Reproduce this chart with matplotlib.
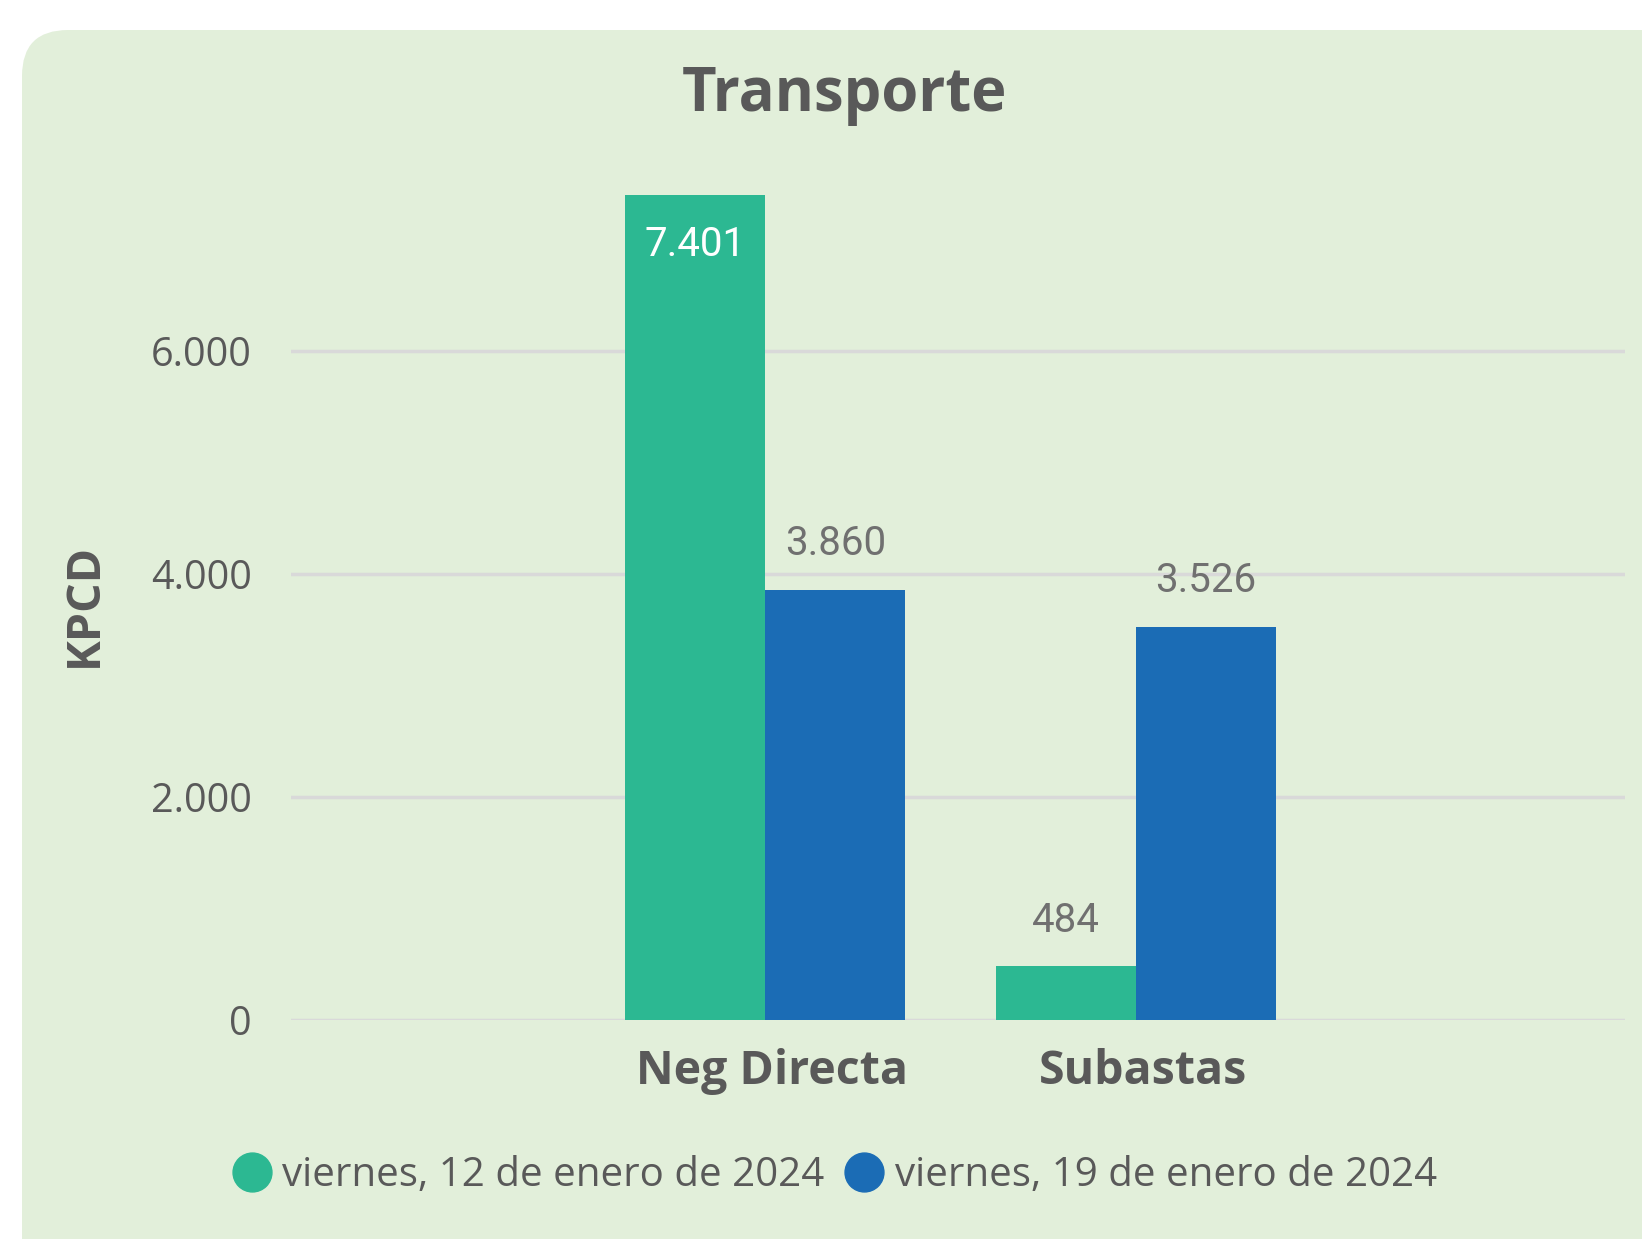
import matplotlib.pyplot as plt
from matplotlib.patches import FancyBboxPatch
from matplotlib.lines import Line2D
from matplotlib.transforms import ScaledTranslation
import numpy as np

categories = ["Neg Directa", "Subastas"]
series_names = ["viernes, 12 de enero de 2024", "viernes, 19 de enero de 2024"]
values_12 = [7401, 484]
values_19 = [3860, 3526]
y_ticks = [0, 2000, 4000, 6000]

GREEN = "#2CB892"
BLUE = "#1B6CB5"
BG = "#E2EFDA"
GRID = "#D9D9D9"
TEXT = "#595959"


def fmt(v):
    return f"{v:,.0f}".replace(",", ".")


fig = plt.figure(figsize=(16.42, 12.39), dpi=100)
fig.patch.set_facecolor("white")

# rounded card behind the chart
card = FancyBboxPatch((22 / 1642, -0.1), 1.2, (1239 - 30) / 1239 + 0.1,
                      boxstyle="round,pad=0,rounding_size=0.028",
                      transform=fig.transFigure, facecolor=BG, edgecolor="none",
                      mutation_aspect=1642 / 1239, zorder=-5)
fig.patches.append(card)

ax = fig.add_axes([0.1772, 0.1768, 0.8125, 0.7199])
ax.set_facecolor("none")

x = np.arange(len(categories))
w = 0.378
b1 = ax.bar(x - w / 2, values_12, w, color=GREEN, zorder=3)
b2 = ax.bar(x + w / 2, values_19, w, color=BLUE, zorder=3)

ax.set_xlim(-1.28, 2.32)
ax.set_ylim(0, 8000)
ax.set_yticks(y_ticks)
ax.set_yticklabels([fmt(t) for t in y_ticks], fontsize=28.5, color=TEXT, family="Open Sans")
ax.set_xticks(x)
ax.set_xticklabels(categories, fontsize=33.5, fontweight="bold", color=TEXT, family="Open Sans")
ax.tick_params(length=0)
ax.tick_params(axis="y", pad=28)
ax.tick_params(axis="x", pad=20)
shift = ScaledTranslation(7 / 100, 0, fig.dpi_scale_trans)
for lab in ax.get_xticklabels():
    lab.set_transform(lab.get_transform() + shift)
ax.grid(axis="y", color=GRID, linewidth=2.5, zorder=0)
for s in ax.spines.values():
    s.set_visible(False)

ax.set_ylabel("KPCD", fontsize=33.5, fontweight="bold", color=TEXT, family="Open Sans", va="center")
ax.yaxis.set_label_coords(-0.155, 0.465)

# data labels
for bars, vals in [(b1, values_12), (b2, values_19)]:
    for bar, v in zip(bars, vals):
        cx = bar.get_x() + bar.get_width() / 2
        if v > 7000:
            ax.annotate(fmt(v), (cx, v), xytext=(0, -36), textcoords="offset points",
                        ha="center", va="center", fontsize=29, color="white", family="Roboto")
        else:
            ax.annotate(fmt(v), (cx, v), xytext=(0, 33), textcoords="offset points",
                        ha="center", va="center", fontsize=29, color="#707070", family="Roboto")

fig.text(844 / 1642, 1 - 96 / 1239, "Transporte", ha="center", va="center",
         fontsize=43, fontweight="bold", color=TEXT, family="Open Sans")

handles = [Line2D([], [], marker="o", linestyle="none", markersize=28, color=GREEN),
           Line2D([], [], marker="o", linestyle="none", markersize=28, color=BLUE)]
leg = fig.legend(handles, series_names, loc="center", bbox_to_anchor=(0.508, 0.051),
                 ncol=2, frameon=False, handletextpad=0.25, columnspacing=0.5,
                 handlelength=1.0, prop={"family": "Open Sans", "size": 29})
for t in leg.get_texts():
    t.set_color(TEXT)

fig.savefig("out.png", dpi=100)
